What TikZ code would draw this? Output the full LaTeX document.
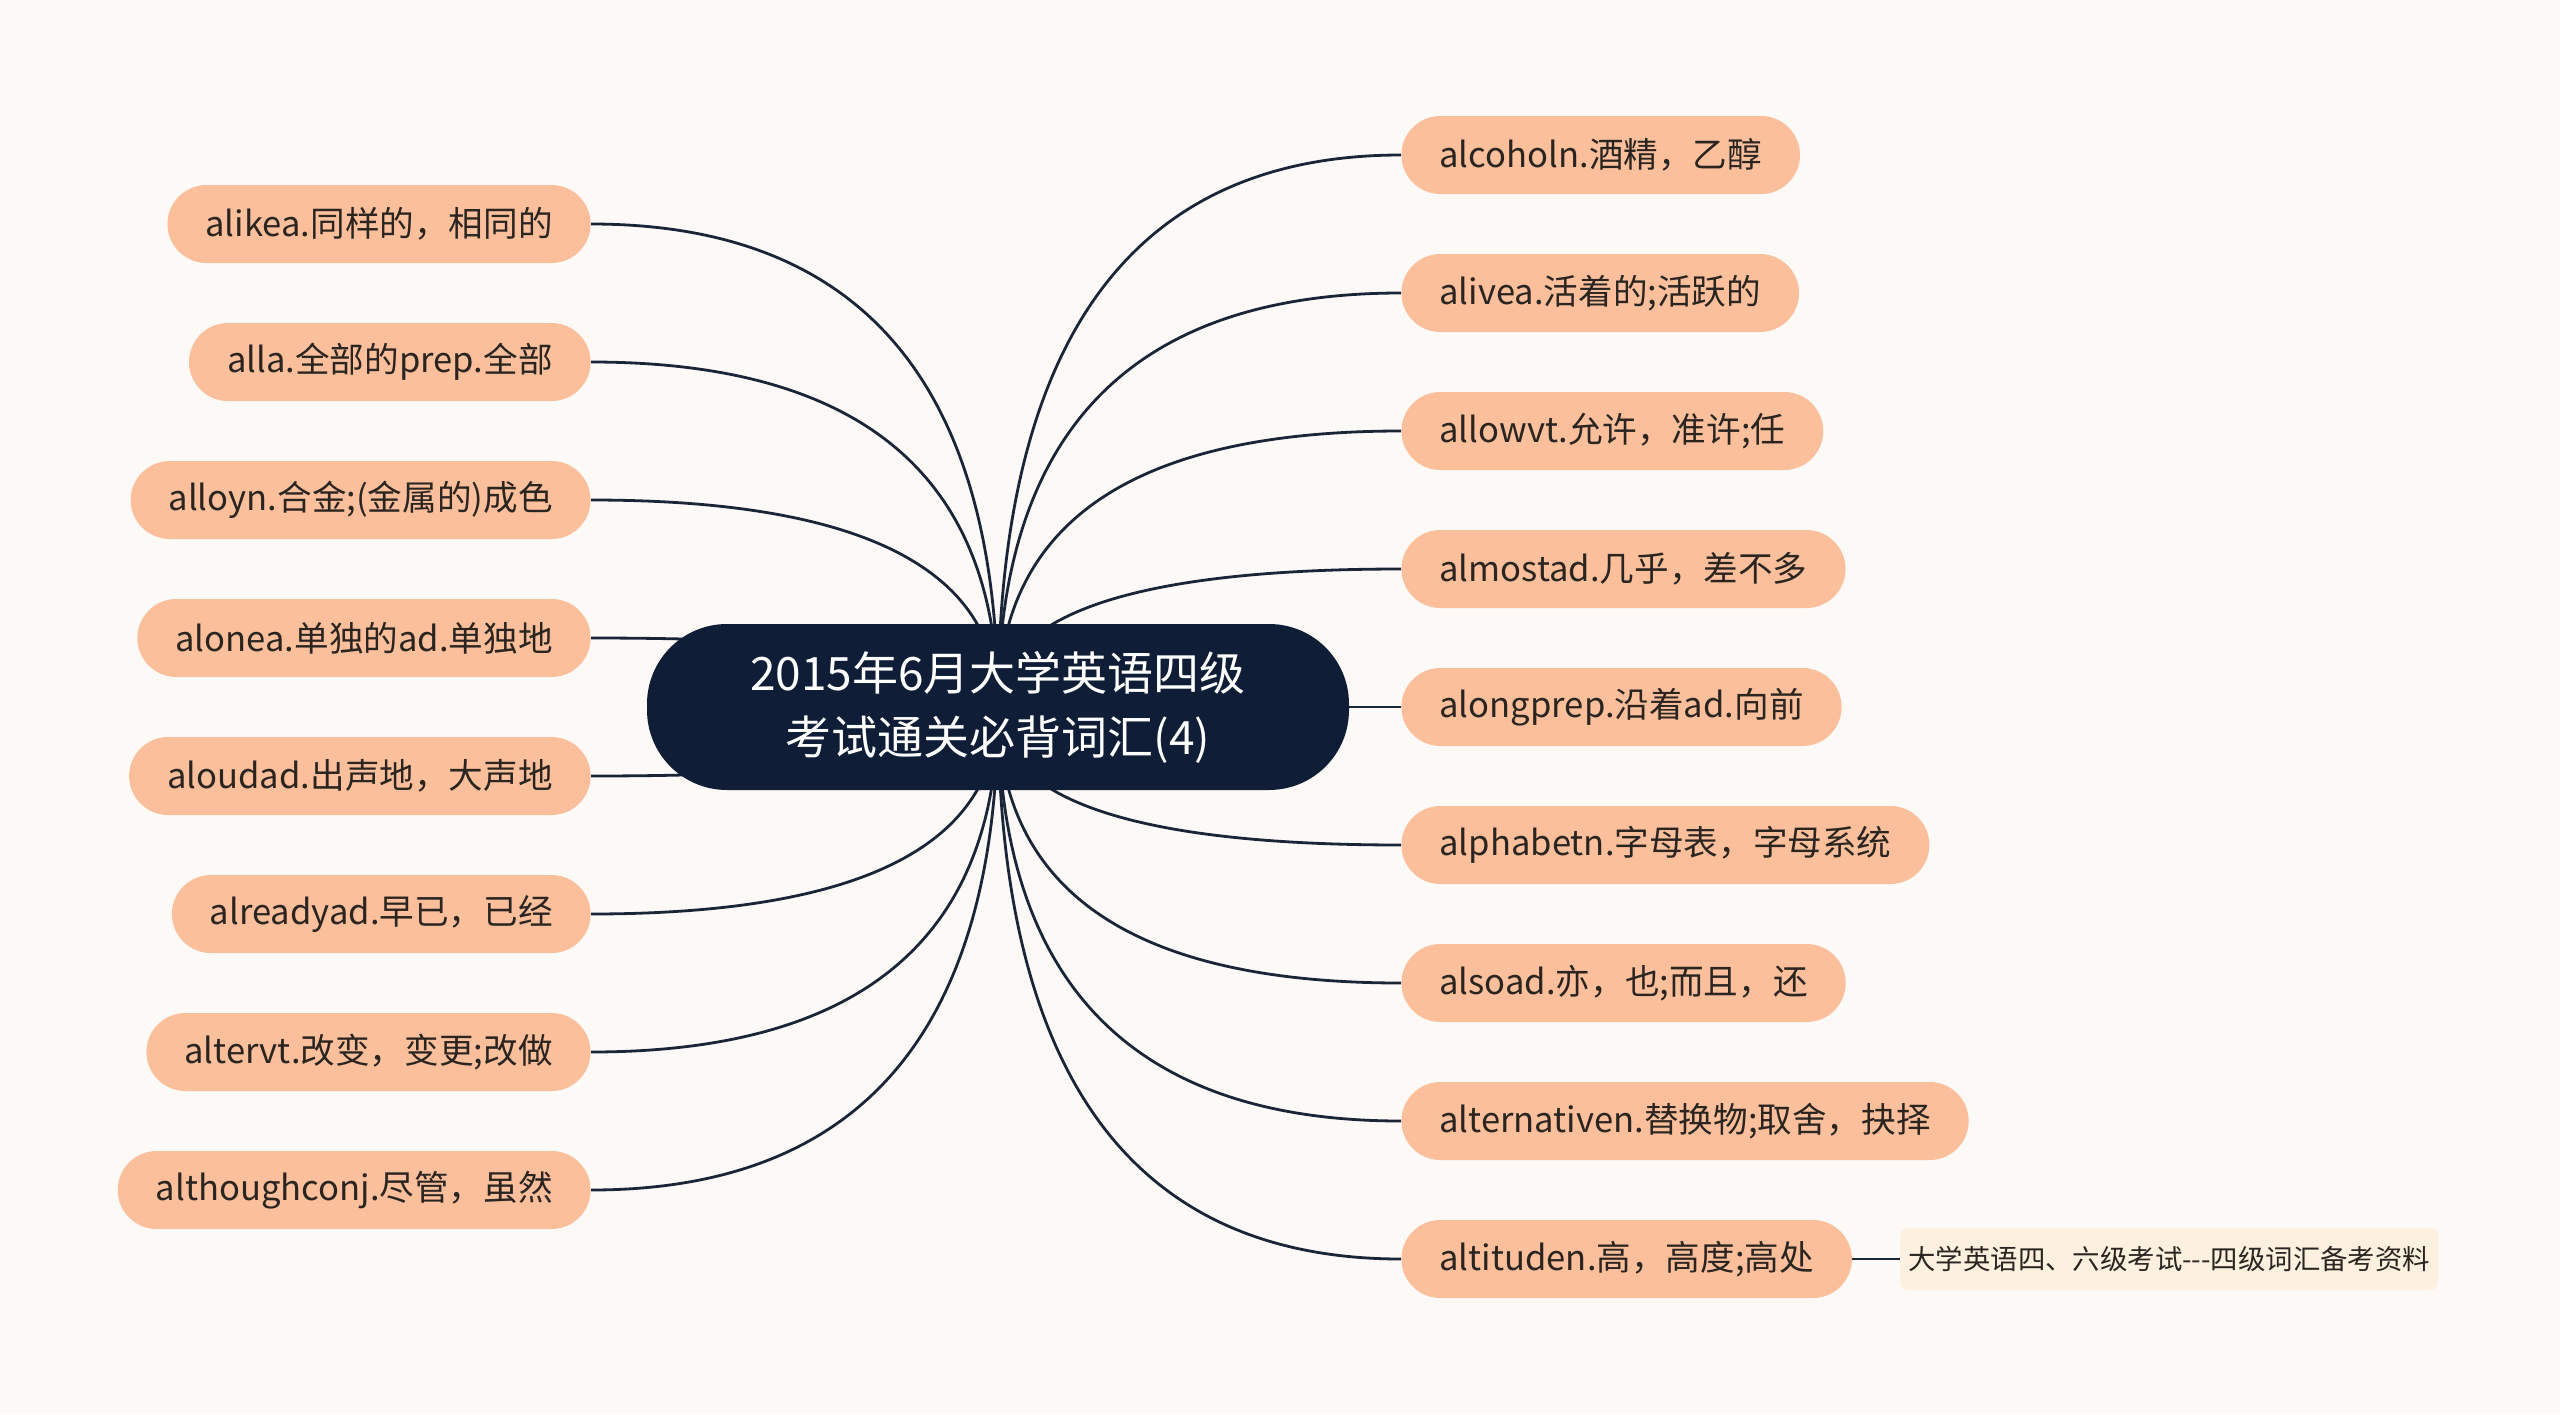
\documentclass[tikz,border=0pt]{standalone}
\usepackage{fontspec}
\newfontfamily\cjk{Noto Sans CJK SC}
\usetikzlibrary{calc,backgrounds}
\definecolor{bgcol}{HTML}{FCF9F7}
\definecolor{rootcol}{HTML}{0F1E36}
\definecolor{leafcol}{HTML}{FBBF9C}
\definecolor{notecol}{HTML}{FDF0DF}
\definecolor{linecol}{HTML}{1A2638}
\definecolor{txtcol}{HTML}{2B2522}

\begin{document}
\begin{tikzpicture}[x=0.5pt,y=-0.5pt,
	root/.style={fill=rootcol,text=white,rounded corners=40pt,minimum width=351pt,minimum height=83pt,align=center,font=\cjk\fontsize{23}{32}\selectfont},
	leaf/.style={fill=leafcol,text=txtcol,rounded corners=19.5pt,minimum height=39pt,inner xsep=19pt,font=\cjk\fontsize{17.3}{21}\selectfont},
	note/.style={fill=notecol,text=txtcol,rounded corners=4pt,minimum height=31pt,inner xsep=4pt,font=\cjk\fontsize{13.7}{16}\selectfont},
	branch/.style={draw=linecol,line width=1.4pt}]
\useasboundingbox (0,0) rectangle (2560,1414);
\node[root](root) at (998,707){2015年6月大学英语四级\\考试通关必背词汇(4)};
\node[leaf,anchor=west](r1) at (1401,155){alcoholn.酒精，乙醇};
\node[leaf,anchor=west](r2) at (1401,293){alivea.活着的;活跃的};
\node[leaf,anchor=west](r3) at (1401,431){allowvt.允许，准许;任};
\node[leaf,anchor=west](r4) at (1401,569){almostad.几乎，差不多};
\node[leaf,anchor=west](r5) at (1401,707){alongprep.沿着ad.向前};
\node[leaf,anchor=west](r6) at (1401,845){alphabetn.字母表，字母系统};
\node[leaf,anchor=west](r7) at (1401,983){alsoad.亦，也;而且，还};
\node[leaf,anchor=west](r8) at (1401,1121){alternativen.替换物;取舍，抉择};
\node[leaf,anchor=west](r9) at (1401,1259){altituden.高，高度;高处};
\node[leaf,anchor=east](l1) at (591,224){alikea.同样的，相同的};
\node[leaf,anchor=east](l2) at (591,362){alla.全部的prep.全部};
\node[leaf,anchor=east](l3) at (591,500){alloyn.合金;(金属的)成色};
\node[leaf,anchor=east](l4) at (591,638){alonea.单独的ad.单独地};
\node[leaf,anchor=east](l5) at (591,776){aloudad.出声地，大声地};
\node[leaf,anchor=east](l6) at (591,914){alreadyad.早已，已经};
\node[leaf,anchor=east](l7) at (591,1052){altervt.改变，变更;改做};
\node[leaf,anchor=east](l8) at (591,1190){althoughconj.尽管，虽然};
\node[note,anchor=west](note) at (1900,1259){大学英语四、六级考试---四级词汇备考资料};
\begin{pgfonlayer}{background}
\fill[bgcol] (0,0) rectangle (2560,1414);
\foreach \n/\a in {r1/west,r2/west,r3/west,r4/west,r5/west,r6/west,r7/west,r8/west,r9/west,
	l1/east,l2/east,l3/east,l4/east,l5/east,l6/east,l7/east,l8/east}
	\draw[branch] (root.center) .. controls ($(root.center)!2/3!(root.center |- \n.\a)$) and ($(\n.\a)!2/3!(root.center |- \n.\a)$) .. (\n.\a);
\draw[branch] (r9.east) -- (note.west);
\end{pgfonlayer}
\end{tikzpicture}
\end{document}
